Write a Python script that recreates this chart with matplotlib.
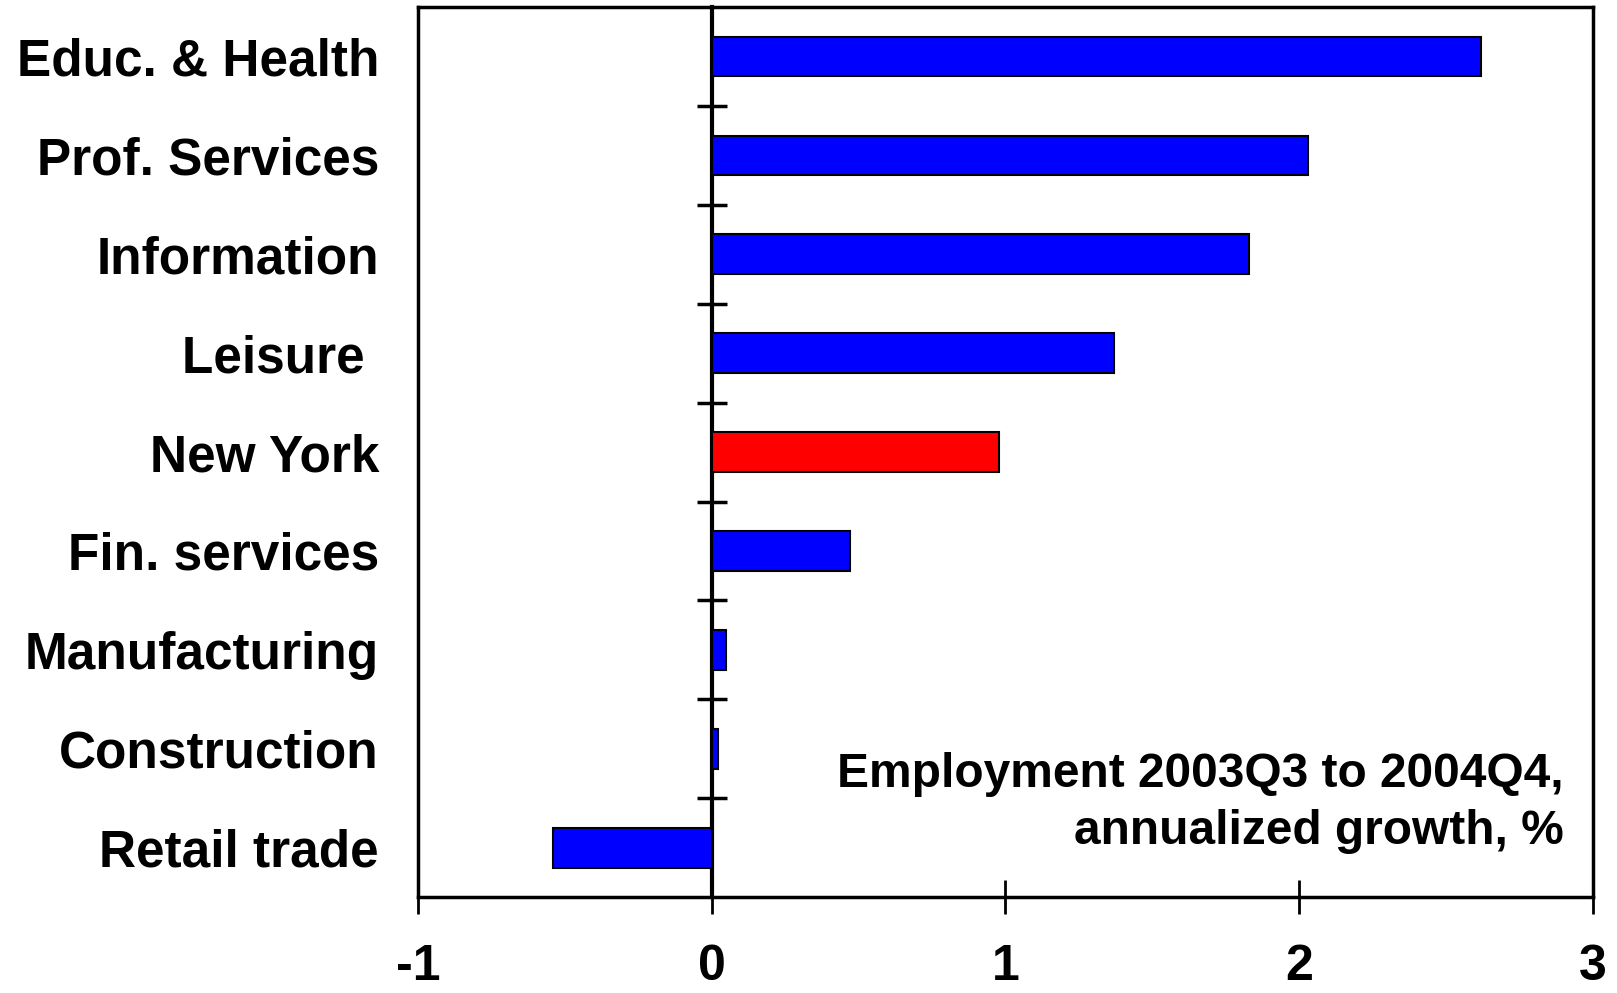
import matplotlib
matplotlib.use('Agg')
import matplotlib.pyplot as plt

plt.rcParams['font.family'] = ['Liberation Sans', 'DejaVu Sans']
plt.rcParams['font.weight'] = 'bold'

categories = ['Educ. & Health', 'Prof. Services', 'Information', 'Leisure ',
              'New York', 'Fin. services', 'Manufacturing', 'Construction',
              'Retail trade']
growth = [2.62, 2.03, 1.83, 1.37, 0.98, 0.47, 0.05, 0.02, -0.54]
colors = ['#0000ff', '#0000ff', '#0000ff', '#0000ff', '#ff0000',
          '#0000ff', '#0000ff', '#0000ff', '#0000ff']
x_ticks = [-1, 0, 1, 2, 3]
note = 'Employment 2003Q3 to 2004Q4,\nannualized growth, %'

fig = plt.figure(figsize=(16.17, 9.93), dpi=100)
ax = fig.add_axes([0.2585, 0.0965, 0.7265, 0.8965])

pos = list(range(len(categories)))
ax.barh(pos, growth, height=0.4, color=colors, edgecolor='black', linewidth=1.5, zorder=3)
ax.set_xlim(-1, 3)
ax.set_ylim(len(categories) - 0.5, -0.5)

for s in ax.spines.values():
    s.set_linewidth(2.5)

ax.set_yticks(pos)
ax.set_yticklabels(categories, fontsize=37, fontweight='bold')
ax.tick_params(axis='y', length=0, pad=28)

ax.set_xticks(x_ticks)
ax.set_xticklabels([str(t) for t in x_ticks], fontsize=36, fontweight='bold')
ax.tick_params(axis='x', direction='inout', length=24, width=2, pad=22)

# category axis crossing at zero
zero_ax = ax.secondary_yaxis((0 - x_ticks[0]) / (x_ticks[-1] - x_ticks[0]))
zero_ax.spines['left'].set_linewidth(3)
zero_ax.set_yticks([p + 0.5 for p in pos[:-1]])
zero_ax.set_yticklabels([])
zero_ax.tick_params(axis='y', direction='inout', length=22, width=2.5)

ax.text(0.975, 0.049, note, transform=ax.transAxes, ha='right', va='bottom',
        fontsize=34.5, fontweight='bold', linespacing=1.33)

fig.savefig('out.png', dpi=100)
